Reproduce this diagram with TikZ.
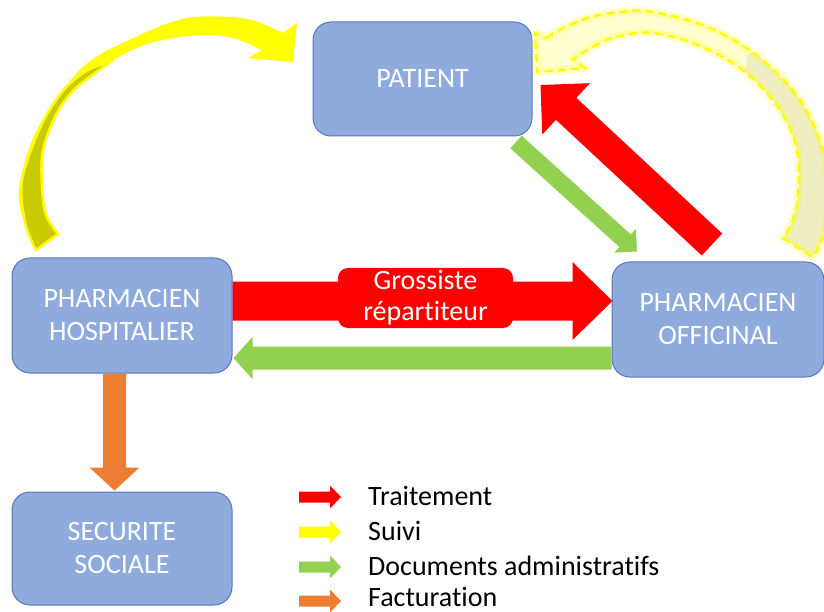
\documentclass[tikz,border=0pt]{standalone}
\usepackage{fontspec}
\setmainfont{Carlito}[Ligatures={NoCommon,NoRequired,NoContextual}]
\usetikzlibrary{calc}

\definecolor{boxfill}{HTML}{8FAADC}
\definecolor{boxline}{HTML}{5677B8}
\definecolor{trtred}{HTML}{FF0000}
\definecolor{suiviyel}{HTML}{FFFF00}
\definecolor{suividark}{HTML}{CACA00}
\definecolor{suivipale}{HTML}{FFFFD2}
\definecolor{suiviolive}{HTML}{EEEEC2}
\definecolor{docgreen}{HTML}{92D050}
\definecolor{factorange}{HTML}{ED7D31}

% straight block arrow: #1 tail, #2 tip, #3 half body width,
% #4 half head width, #5 head length, #6 fill colour
\newcommand{\blockarrow}[6]{%
  \coordinate (ba-h) at ($(#2)!#5!(#1)$);
  \fill[#6] ($(#1)!#3!90:(#2)$) -- ($(ba-h)!#3!-90:(#1)$)
    -- ($(ba-h)!#4!-90:(#1)$) -- (#2) -- ($(ba-h)!#4!90:(#1)$)
    -- ($(ba-h)!#3!90:(#1)$) -- ($(#1)!#3!-90:(#2)$) -- cycle;
}

% outline of the dashed follow-up arrow on the right
\newcommand{\returnshape}{%
  plot[smooth, tension=0.6] coordinates {(547,38) (557,31) (587,18) (620,12)
    (653,12) (710,28) (760,58) (800,100) (823,150) (829,200) (822,240) (812,257)}
  -- plot[smooth, tension=0.6] coordinates {(783,238) (792,222) (798,195)
    (797,150) (780,110) (745,72) (700,46) (653,33) (620,36) (600,43) (573,59)}
  -- (585,68) -- (537,72) -- (535,33) -- cycle}

\tikzset{
  box/.style={draw=boxline, line width=1pt, fill=boxfill, rounded corners=18pt,
    text=white, align=center, font=\fontsize{28}{33}\selectfont, inner sep=0pt},
  legendtext/.style={anchor=base west, inner sep=0pt, text=black,
    font=\fontsize{28}{33}\selectfont},
}

\begin{document}
\begin{tikzpicture}[x=1pt, y=-1pt]
\useasboundingbox (0,0) rectangle (824,612);
\clip (0,0) rectangle (824,612);

% actors
\node[box, minimum width=219pt, minimum height=114pt] (pat) at (422.5,79) {PATIENT};
\node[box, minimum width=220pt, minimum height=115pt] (hosp) at (122,315.5) {PHARMACIEN\\HOSPITALIER};
\node[box, minimum width=212pt, minimum height=115pt] (off) at (718,319.5) {PHARMACIEN\\OFFICINAL};
\node[box, minimum width=220pt, minimum height=113pt] (secu) at (122,548.5) {SECURITE\\SOCIALE};

% arrow ends, set against the boxes
\coordinate (rh-t) at ($(hosp.east)+(0,-14.5)$);
\coordinate (rh-h) at ($(off.west)+(1,-18.5)$);
\coordinate (gh-t) at ($(off.west)+(0,38.5)$);
\coordinate (gh-h) at ($(hosp.east)+(1,42.5)$);
\coordinate (gd-t) at ($(pat.south)+(93.5,5.5)$);
\coordinate (gd-h) at ($(off.north)+(-81,-10)$);
\coordinate (rd-t) at ($(off.north)+(-6,-17)$);
\coordinate (rd-h) at ($(pat.east)+(8,6)$);
\coordinate (or-t) at ($(hosp.south)+(-7.5,0)$);
\coordinate (or-h) at ($(secu.north)+(-7.5,-1)$);

% follow-up, hospital pharmacist to patient
\fill[suiviyel] plot[smooth, tension=0.55] coordinates {(283,33) (255,21) (230,17)
    (187,18) (140,35) (83,67) (37,130) (19,190) (25,225) (35,251)}
  -- plot[smooth, tension=0.55] coordinates {(58,234) (46,215) (42,187) (43,150)
    (57,113) (77,87) (110,62) (150,43) (200,35) (233,38) (262,50)}
  -- (248,58) -- (293,62) -- (297,23) -- cycle;
\fill[suividark, draw=suiviyel, line width=2.5pt, line join=round]
  plot[smooth, tension=0.55] coordinates {(112,61) (86,71) (62,92) (40,128) (22,180) (25,222) (36,250)}
  -- plot[smooth, tension=0.55] coordinates {(58,234) (46,215) (42,187) (43,150) (57,113) (77,87) (112,61)}
  -- cycle;

% follow-up, community pharmacist to patient (dashed)
\fill[suivipale] \returnshape;
\begin{scope}
  \clip (748,55) -- (900,-60) -- (900,320) -- (700,320) -- cycle;
  \fill[suiviolive] \returnshape;
\end{scope}
\draw[suiviyel, line width=8pt, opacity=0.22, line join=round] \returnshape;
\draw[suiviyel, line width=2.4pt, dash pattern=on 8pt off 5pt] \returnshape;

% treatment and documents
\blockarrow{rh-t}{rh-h}{19.5pt}{39pt}{40pt}{trtred}
\blockarrow{gh-t}{gh-h}{11.5pt}{21pt}{19pt}{docgreen}
\blockarrow{gd-t}{gd-h}{8.5pt}{16pt}{16pt}{docgreen}
\blockarrow{rd-t}{rd-h}{15pt}{35pt}{35pt}{trtred}
\blockarrow{or-t}{or-h}{11.5pt}{25pt}{23pt}{factorange}

\node[fill=trtred, rounded corners=10pt, minimum width=175pt, minimum height=60pt,
  inner sep=0pt, text=white, align=center, font=\fontsize{28}{31}\selectfont]
  (lbl) at (425.5,298) {Grossiste\\répartiteur};

% legend
\coordinate (l1a) at (299,497); \coordinate (l1b) at (341,497);
\coordinate (l2a) at (299,532); \coordinate (l2b) at (341,532);
\coordinate (l3a) at (299,567); \coordinate (l3b) at (341,567);
\coordinate (l4a) at (299,601); \coordinate (l4b) at (341,601);
\blockarrow{l1a}{l1b}{5.5pt}{11.5pt}{11pt}{trtred}
\blockarrow{l2a}{l2b}{5.5pt}{11.5pt}{11pt}{suiviyel}
\blockarrow{l3a}{l3b}{5.5pt}{11.5pt}{11pt}{docgreen}
\blockarrow{l4a}{l4b}{5.5pt}{11.5pt}{11pt}{factorange}
\node[legendtext] (t1) at (368,505.5) {Traitement};
\node[legendtext] (t2) at (368,540.5) {Suivi};
\node[legendtext] (t3) at (368,575.5) {Documents administratifs};
\node[legendtext] (t4) at (368,606.5) {Facturation};
\end{tikzpicture}
\end{document}
